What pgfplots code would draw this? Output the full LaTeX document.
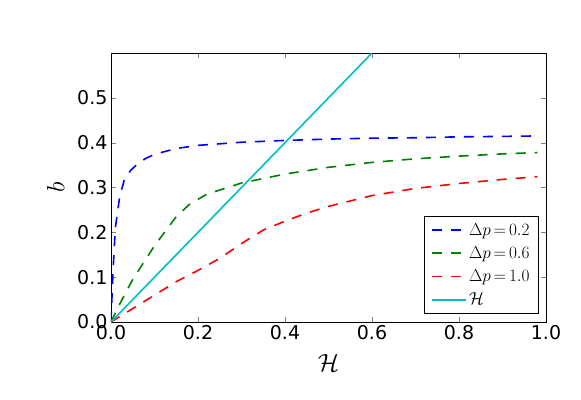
\documentclass[border=0pt]{standalone}
\usepackage[no-math]{fontspec}
\usepackage{pgfplots}
\pgfplotsset{compat=1.18}
\newfontfamily\dejavu{DejaVu Sans}
\definecolor{mplblue}{rgb}{0,0,1}
\definecolor{mplgreen}{rgb}{0,0.5,0}
\definecolor{mplred}{rgb}{1,0,0}
\definecolor{mplcyan}{rgb}{0,0.75,0.75}

\begin{document}
\begin{tikzpicture}
\useasboundingbox (-111pt,-77pt) rectangle (470pt,322pt);
\begin{axis}[
    at={(0,0)}, anchor=south west,
    scale only axis,
    width=435pt, height=269pt,
    xmin=0, xmax=1, ymin=0, ymax=0.6,
    xtick={0,0.2,...,1.0},
    ytick={0,0.1,...,0.5},
    xticklabel style={/pgf/number format/.cd, fixed, fixed zerofill, precision=1},
    yticklabel style={/pgf/number format/.cd, fixed, fixed zerofill, precision=1},
    /pgf/number format/assume math mode=true,
    tick label style={font=\dejavu\fontsize{19}{22}\selectfont},
    tick align=inside, tick pos=both,
    major tick length=5pt,
    axis line style={line width=0.9pt},
    xlabel={$\mathcal{H}$},
    ylabel={$b$},
    xlabel style={font=\fontsize{30}{34}\selectfont, yshift=-8pt},
    ylabel style={font=\fontsize{30}{34}\selectfont, yshift=6pt},
    clip=true,
    legend cell align=left,
    legend style={at={(0.984,0.03)}, anchor=south east, draw=black,
        line width=0.9pt, font=\fontsize{16}{19}\selectfont,
        inner xsep=7pt, inner ysep=5pt, row sep=6pt},
    legend image code/.code={\draw[#1, line width=1.6pt] (0pt,0.2pt) -- (23pt,0.2pt);
        \path (0pt,0pt) -- (34pt,0pt);},
]
\addplot[mplblue, line width=1.6pt, dash pattern=on 10pt off 9pt] coordinates {
 (0,0) (0.002,0.05) (0.005,0.12) (0.01,0.21) (0.02,0.28) (0.03,0.315)
 (0.045,0.338) (0.06,0.352) (0.08,0.365) (0.1,0.374) (0.15,0.387)
 (0.2,0.394) (0.3,0.401) (0.4,0.405) (0.5,0.408) (0.6,0.410)
 (0.7,0.411) (0.8,0.413) (0.9,0.414) (0.98,0.415)
};
\addlegendentry{$\Delta p{\,=\,}0.2$}
\addplot[mplgreen, line width=1.6pt, dash pattern=on 10pt off 9pt] coordinates {
 (0,0) (0.02,0.04) (0.05,0.095) (0.1,0.17) (0.15,0.235) (0.18,0.262)
 (0.22,0.285) (0.3,0.31) (0.4,0.33) (0.5,0.345) (0.6,0.356)
 (0.7,0.364) (0.8,0.370) (0.9,0.375) (0.98,0.378)
};
\addlegendentry{$\Delta p{\,=\,}0.6$}
\addplot[mplred, line width=1.6pt, dash pattern=on 10pt off 9pt] coordinates {
 (0,0) (0.05,0.03) (0.1,0.06) (0.15,0.09) (0.2,0.115) (0.25,0.142)
 (0.3,0.175) (0.35,0.205) (0.4,0.225) (0.45,0.243) (0.5,0.258)
 (0.6,0.282) (0.7,0.298) (0.8,0.309) (0.9,0.318) (0.98,0.324)
};
\addlegendentry{$\Delta p{\,=\,}1.0$}
\addplot[mplcyan, line width=1.6pt] coordinates {
 (0,0) (0.6,0.6)
};
\addlegendentry{$\mathcal{H}$}
\end{axis}
\end{tikzpicture}
\end{document}
